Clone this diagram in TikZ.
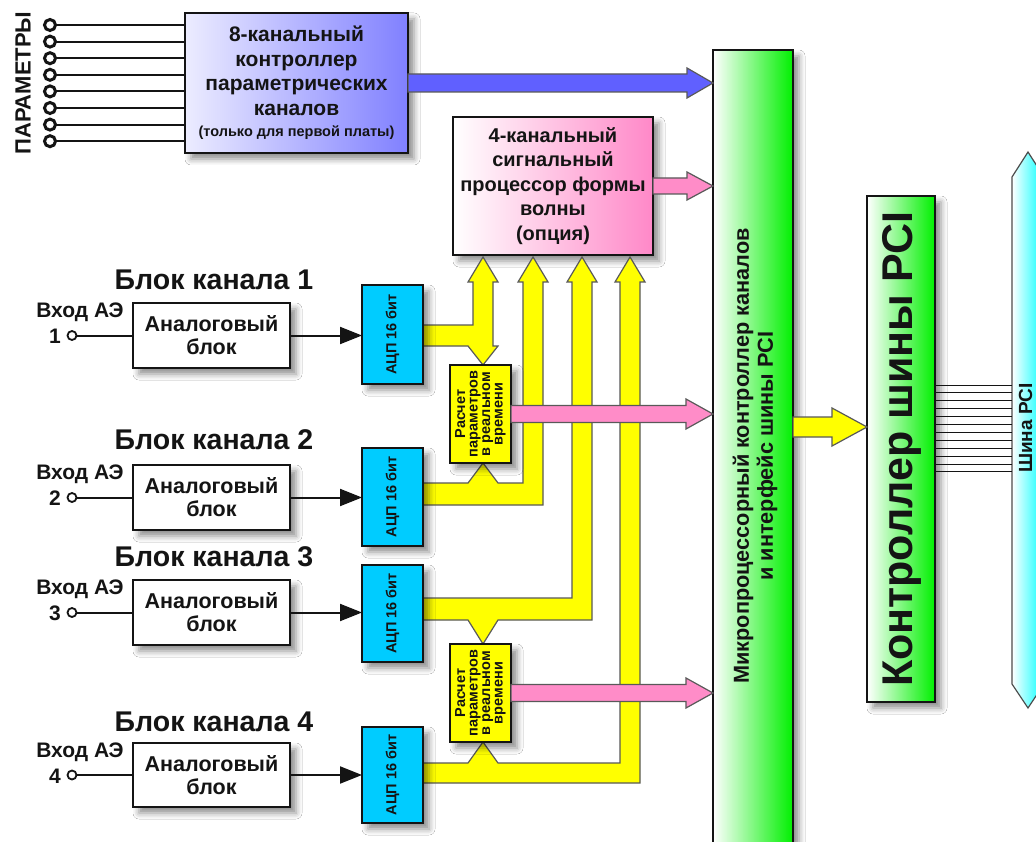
\documentclass[tikz,border=0pt]{standalone}
\usepackage{fontspec}
\setmainfont{Liberation Sans}
\usetikzlibrary{arrows.meta,shadows.blur,calc}

\definecolor{purpleL}{RGB}{236,236,255}
\definecolor{purpleR}{RGB}{128,128,255}
\definecolor{pinkR}{RGB}{255,136,200}
\definecolor{greenR}{RGB}{0,240,0}
\definecolor{cyanR}{RGB}{0,255,255}
\definecolor{adcC}{RGB}{0,204,255}
\definecolor{yel}{RGB}{255,255,0}
\definecolor{blueA}{RGB}{96,96,255}
\definecolor{pinkA}{RGB}{255,140,200}
\definecolor{ink}{RGB}{20,20,20}

\newcommand{\fs}[2]{\fontsize{#1}{#2}\selectfont\bfseries}
% horizontal fat arrow: from, to, colour, half body, half head, head length
\newcommand{\hfat}[6]{%
  \path[fat, fill=#3] let \p1=(#1), \p2=(#2) in
    (\x1,\y1+#4) -- (\x2-#6,\y1+#4) -- (\x2-#6,\y1+#5) -- (\x2,\y1)
    -- (\x2-#6,\y1-#5) -- (\x2-#6,\y1-#4) -- (\x1,\y1-#4) -- cycle;}

\tikzset{
  box/.style={draw=ink, line width=2.4pt, inner sep=0pt, outer sep=0pt,
              anchor=north west, align=center, text=ink},
  shad/.style={blur shadow={shadow xshift=6pt, shadow yshift=-6pt,
              shadow blur radius=6pt, shadow opacity=45}},
  vtext/.style={rotate=90, align=center, inner sep=0pt, text=ink},
  lbl/.style={inner sep=0pt, text=ink},
  fat/.style={draw=black!65, line width=1.2pt, line join=miter},
  thinline/.style={line width=2pt, draw=ink},
  pin/.style={circle, draw=ink, fill=white, line width=1.8pt,
              minimum size=9pt, inner sep=0pt},
}

\begin{document}
\begin{tikzpicture}[x=1pt, y=-1pt]
\useasboundingbox (0,0) rectangle (1036,842);
\fill[white] (0,0) rectangle (1036,842);
\clip (0,0) rectangle (1036,842);

% ---------- parameter controller ----------
\node[box, shad, minimum width=223pt, minimum height=140pt,
      left color=purpleL, right color=purpleR, font=\fs{21}{24.5}] (par) at (185,13)
  {8-канальный\\контроллер\\параметрических\\каналов\\[-3pt]{\fs{14.5}{16}(только для первой платы)}};
\node[vtext, font=\fs{22}{23}] (ptxt) at (23,83) {ПАРАМЕТРЫ};
\foreach \i in {0,...,7}{
  \pgfmathsetmacro\yy{25+16.6*\i}
  \draw[thinline] (50,\yy) -- (par.west |- 0,\yy);
  \node[pin, minimum size=11pt, line width=3pt] (pp\i) at (50,\yy) {};
}

% ---------- main bus (MCU) ----------
\node[box, shad, minimum width=80pt, minimum height=820pt,
      left color=white, right color=greenR] (mcu) at (713,50) {};
\node[vtext, font=\fs{21.7}{24}] (mcut) at (755,456)
  {Микропроцессорный контроллер каналов\\и интерфейс шины PCI};

% ---------- waveform processor ----------
\node[box, shad, minimum width=200pt, minimum height=138pt,
      left color=white, right color=pinkR, font=\fs{20}{24.5}] (dsp) at (453,117)
  {4-канальный\\сигнальный\\процессор формы\\волны\\(опция)};

\hfat{par.east}{mcu.west |- par.east}{blueA}{9pt}{15pt}{26pt}
\hfat{dsp.east}{mcu.west |- dsp.east}{pinkA}{8pt}{14pt}{26pt}

% ---------- yellow data paths ----------
\path[fat, fill=yel] (400,325) -- (473,325) -- (473,282) -- (468,282) -- (483,257)
  -- (498,282) -- (493,282) -- (493,346) -- (498,346) -- (483,365) -- (468,346)
  -- (400,346) -- cycle;
\path[fat, fill=yel] (400,505) -- (543,505) -- (543,282) -- (548,282) -- (533,257)
  -- (518,282) -- (523,282) -- (523,483) -- (498,483) -- (483,463) -- (468,483)
  -- (400,483) -- cycle;
\path[fat, fill=yel] (400,598) -- (572,598) -- (572,282) -- (567,282) -- (582,257)
  -- (597,282) -- (592,282) -- (592,620) -- (498,620) -- (483,644) -- (468,620)
  -- (400,620) -- cycle;
\path[fat, fill=yel] (400,783) -- (640,783) -- (640,282) -- (645,282) -- (630,257)
  -- (615,282) -- (620,282) -- (620,763) -- (498,763) -- (483,742) -- (468,763)
  -- (400,763) -- cycle;

% ---------- channel blocks ----------
\foreach \k/\at/\ah/\adtop/\adh in {1/303/65/285/99, 2/465/65/448/98,
                                    3/580/65/565/97, 4/743/64/727/96}{
  \pgfmathsetmacro\cy{\at+\ah/2}
  \node[box, shad, fill=white, minimum width=157pt, minimum height=\ah pt,
        font=\fs{21.5}{23}] (ana\k) at (133,\at) {Аналоговый\\блок};
  \node[box, shad, fill=adcC, minimum width=61pt, minimum height=\adh pt] (adc\k) at (362,\adtop) {};
  \node[vtext, font=\fs{14.5}{16}] (adct\k) at (adc\k.center) {АЦП 16 бит};
  \node[pin] (in\k) at (72,\cy) {};
  \draw[thinline] (in\k.east) -- (ana\k.west);
  \draw[thinline, -{Triangle[length=22pt,width=17pt]}] (ana\k.east) -- (ana\k.east -| adc\k.west);
  \node[lbl, font=\fs{21}{23}] (vh\k) at (80,\cy-23) {Вход АЭ};
  \node[lbl, font=\fs{21}{23}] (num\k) at (55,\cy+1) {\k};
}
\node[lbl, font=\fs{28.5}{30}] (t1) at (214,280) {Блок канала 1};
\node[lbl, font=\fs{28.5}{30}] (t2) at (214,440) {Блок канала 2};
\node[lbl, font=\fs{28.5}{30}] (t3) at (214,557) {Блок канала 3};
\node[lbl, font=\fs{28.5}{30}] (t4) at (214,722) {Блок канала 4};

% ---------- real-time parameter blocks ----------
\node[box, shad, fill=yel, minimum width=61pt, minimum height=98pt] (calc1) at (450,365) {};
\node[box, shad, fill=yel, minimum width=61pt, minimum height=98pt] (calc2) at (450,644) {};
\node[vtext, font=\fs{14.5}{12.5}] (calct1) at (calc1.center) {Расчет\\параметров\\в реальном\\времени};
\node[vtext, font=\fs{14.5}{12.5}] (calct2) at (calc2.center) {Расчет\\параметров\\в реальном\\времени};
\hfat{calc1.east}{mcu.west |- calc1.east}{pinkA}{8.5pt}{15pt}{27pt}
\hfat{calc2.east}{mcu.west |- calc2.east}{pinkA}{8.5pt}{15pt}{27pt}

% ---------- PCI controller and bus ----------
\node[box, shad, minimum width=68pt, minimum height=506pt,
      left color=white, right color=greenR] (pci) at (867,196) {};
\node[vtext, font=\fs{43}{46}] (pcit) at (902,449) {Контроллер шины PCI};
\coordinate (ya) at (0,427);
\hfat{mcu.east |- ya}{pci.west |- ya}{yel}{10pt}{19pt}{35pt}

\shade[left color=white, right color=cyanR, draw=black!70, line width=1.2pt]
  (1012,177) -- (1028,152) -- (1044,177) -- (1044,684) -- (1028,708) -- (1012,684) -- cycle;
\coordinate (buswest) at (1012,430);
\foreach \i in {0,...,11}{
  \pgfmathsetmacro\yy{385+7.9*\i}
  \draw[line width=1pt, ink] (pci.east |- 0,\yy) -- (buswest |- 0,\yy);
}
\node[vtext, font=\fs{19}{20}] (bust) at (1025.5,428) {Шина PCI};
\end{tikzpicture}
\end{document}
